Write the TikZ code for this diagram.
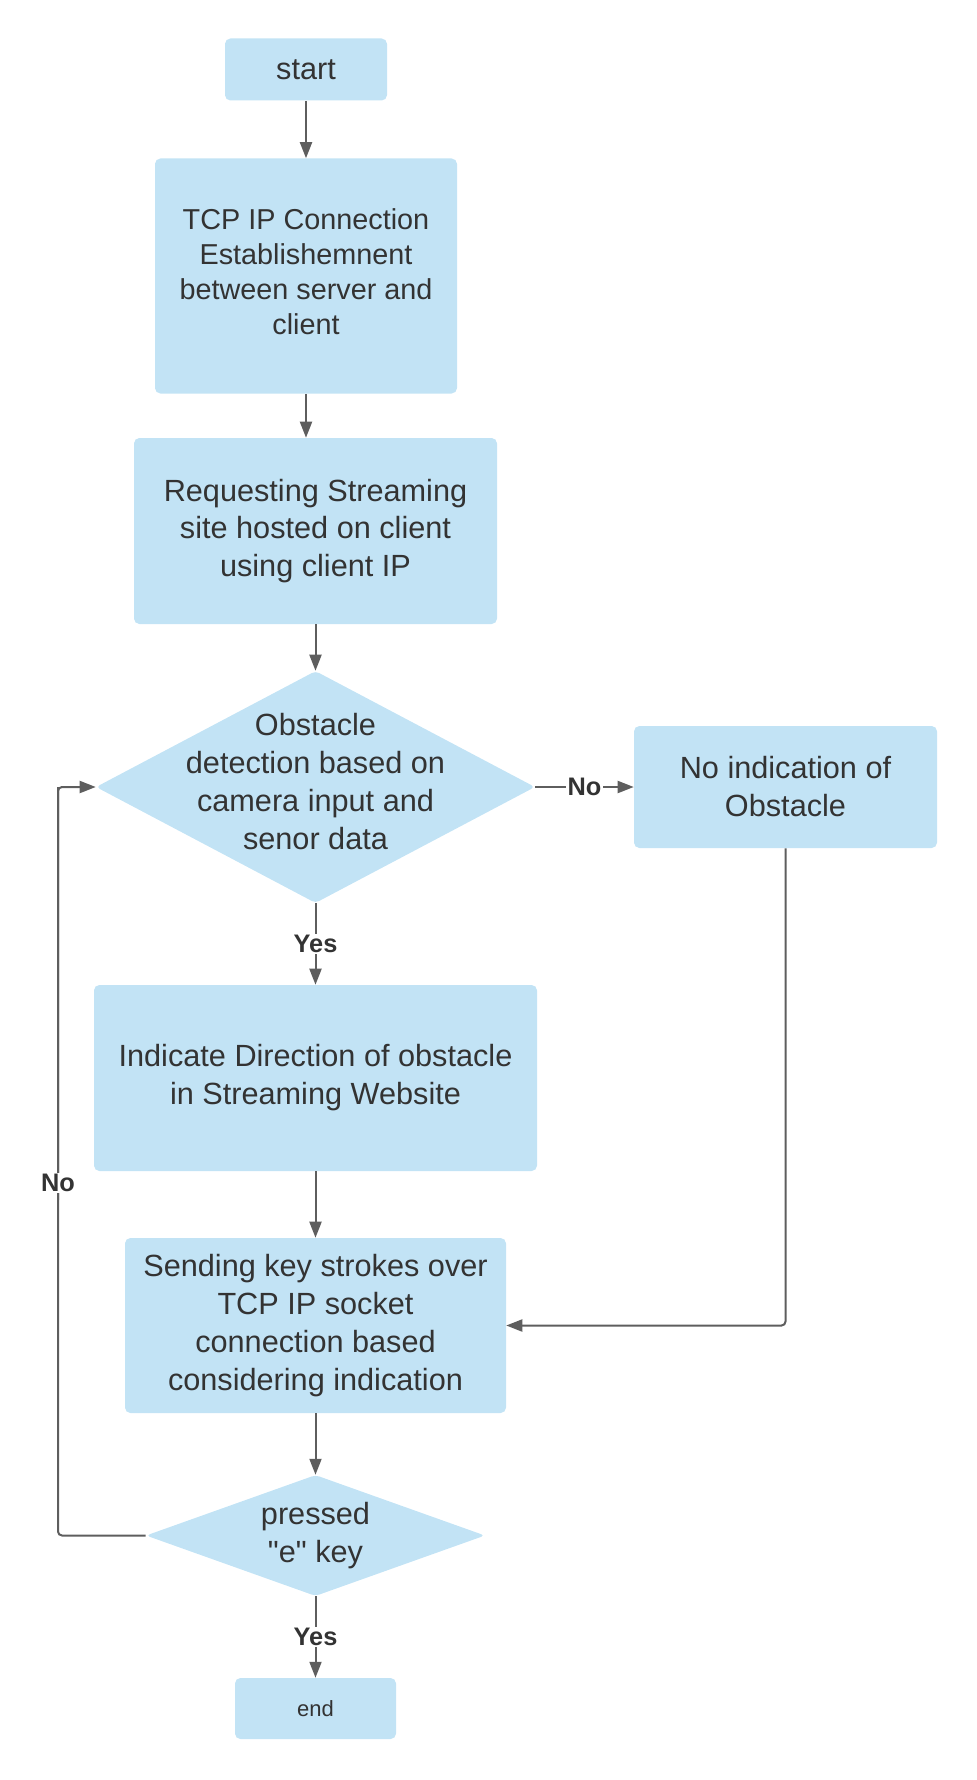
\documentclass[tikz,border=0pt]{standalone}
\usepackage{fontspec}
\setmainfont{Liberation Sans}[Ligatures=TeXOff]
\usetikzlibrary{shapes.geometric,arrows.meta}
\definecolor{boxfill}{HTML}{C2E3F5}
\definecolor{txt}{HTML}{333333}
\definecolor{ln}{HTML}{5E5E5E}
\tikzset{
  box/.style={rectangle, rounded corners=4pt, fill=boxfill, draw=none, text=txt, align=center, inner sep=0pt,
    font=\fontsize{23}{28.5}\selectfont},
  dia/.style={diamond, rounded corners=3pt, fill=boxfill, draw=none, inner sep=0pt},
  diatext/.style={text=txt, align=center, font=\fontsize{23}{28.5}\selectfont},
  conn/.style={draw=ln, line width=1.5pt, -{Triangle[length=12pt,width=9pt]}},
  plainline/.style={draw=ln, line width=1.5pt},
  lbl/.style={fill=white, text=txt, inner sep=1pt, font=\fontsize{19}{21}\selectfont\bfseries}
}
\begin{document}
\begin{tikzpicture}[x=0.75pt,y=-0.75pt]
\useasboundingbox (0,0) rectangle (976,1780);
% boxes (positions in px, sizes in pt)
\node[box, minimum width=121.5pt, minimum height=46.5pt] (start) at (306,69.5) {start};
\node[box, minimum width=226.5pt, minimum height=176.25pt, font=\fontsize{21.6}{26.2}\selectfont] (tcp) at (306,276) {TCP IP Connection\\Establishemnent\\between server and\\client\\[-19.5pt]};
\node[box, minimum width=272.25pt, minimum height=139.5pt, font=\fontsize{23}{28.3}\selectfont] (req) at (315.5,531) {Requesting Streaming\\site hosted on client\\using client IP};
\node[dia, minimum width=329.25pt, minimum height=174pt] (d1) at (315.5,787) {};
\node[diatext] (d1t) at (315.5,782) {Obstacle\\detection based on\\camera input and\\senor data};
\node[box, minimum width=227.25pt, minimum height=91.5pt] (noind) at (785.5,787) {No indication of\\Obstacle};
\node[box, minimum width=332.25pt, minimum height=139.5pt] (ind) at (315.5,1078) {Indicate Direction of obstacle\\in Streaming Website};
\node[box, minimum width=285.75pt, minimum height=131.25pt] (send) at (315.5,1325.5) {Sending key strokes over\\TCP IP socket\\connection based\\considering indication};
\node[dia, minimum width=254.25pt, minimum height=90.75pt] (d2) at (315.5,1535.5) {};
\node[diatext] (d2t) at (315.5,1535.5) {pressed\\"e" key};
\node[box, minimum width=120.75pt, minimum height=45.75pt, font=\fontsize{16.5}{18}\selectfont] (end) at (315.5,1708.5) {end};
% connectors
\draw[conn] (start.south) -- (tcp.north);
\draw[conn] (tcp.south) -- (req.north -| tcp.south);
\draw[conn] (req.south) -- (d1.north);
\draw[conn] (d1.east) -- node[lbl] {No} (noind.west);
\draw[conn] (d1.south) -- node[lbl] {Yes} (ind.north);
\draw[conn] (ind.south) -- (send.north);
\draw[conn] (send.south) -- (d2.north);
\draw[conn] (d2.south) -- node[lbl] {Yes} (end.north);
\coordinate (cr) at (785.5,1325.5);
\draw[conn, rounded corners=3pt] (noind.south) -- (cr) -- (send.east);
\coordinate (lb) at (58,1535.5);
\coordinate (lt) at (58,787);
\draw[plainline, rounded corners=3pt] (d2.west) -- (lb) -- (lt);
\draw[conn, rounded corners=3pt] (58,1200) -- (lt) -- (d1.west);
\node[lbl] (nolbl) at (58,1183) {No};
\end{tikzpicture}
\end{document}
